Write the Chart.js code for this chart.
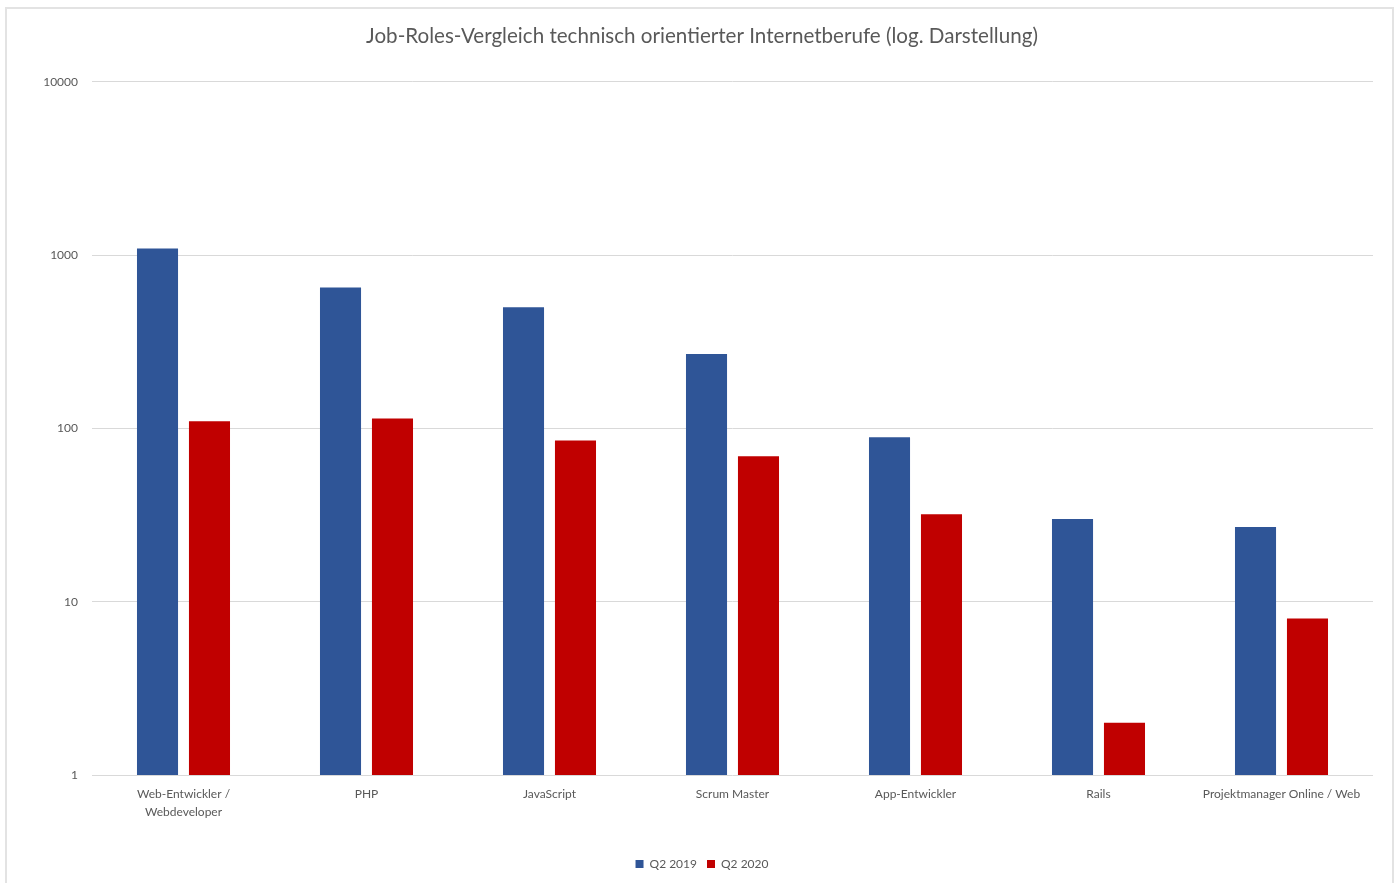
<!DOCTYPE html>
<html>
<head>
<meta charset="utf-8">
<script src="https://cdn.jsdelivr.net/npm/chart.js@4.4.1/dist/chart.umd.min.js"></script>
<style>
  html, body { margin: 0; padding: 0; background: #ffffff; }
  #wrap { position: relative; width: 1400px; height: 883px; overflow: hidden; }
  #frame { position: absolute; left: 5px; top: 7px; width: 1389px; height: 890px; box-sizing: border-box; border: 2px solid #e3e3e3; pointer-events: none; }
  canvas { position: absolute; left: 0; top: 0; }
</style>
</head>
<body>
<div id="wrap">
  <canvas id="c" width="1400" height="883"></canvas>
  <div id="frame"></div>
</div>
<script>
const chartTitle = 'Job-Roles-Vergleich technisch orientierter Internetberufe (log. Darstellung)';
const categories = [
  ['Web-Entwickler /', 'Webdeveloper'],
  'PHP',
  'JavaScript',
  'Scrum Master',
  'App-Entwickler',
  'Rails',
  'Projektmanager Online / Web'
];
const seriesNames = ['Q2 2019', 'Q2 2020'];
const q2_2019 = [1090, 650, 500, 269, 89, 30, 27];
const q2_2020 = [110, 114, 85, 69, 32, 2, 8];
const yTicks = [1, 10, 100, 1000, 10000];

const textColor = '#595959';
const fontFamily = 'Lato, "Open Sans", "Liberation Sans", sans-serif';

new Chart(document.getElementById('c'), {
  type: 'bar',
  data: {
    labels: categories,
    datasets: [
      { label: seriesNames[0], data: q2_2019, backgroundColor: '#2F5597', borderWidth: 0 },
      { label: seriesNames[1], data: q2_2020, backgroundColor: '#C00000', borderWidth: 0 }
    ]
  },
  options: {
    responsive: false,
    animation: false,
    devicePixelRatio: 1,
    layout: { padding: { left: 31, right: 27, top: 0, bottom: 3 } },
    datasets: { bar: { categoryPercentage: 0.568, barPercentage: 0.79 } },
    plugins: {
      title: {
        display: true,
        text: chartTitle,
        color: textColor,
        font: { family: fontFamily, size: 20.6, weight: 'normal' },
        padding: { top: 24, bottom: 33 }
      },
      legend: {
        position: 'bottom',
        labels: {
          color: textColor,
          font: { family: fontFamily, size: 12 },
          boxWidth: 8,
          boxHeight: 8,
          padding: 10
        }
      },
      tooltip: { enabled: false }
    },
    scales: {
      x: {
        grid: { display: false, drawTicks: false },
        border: { display: false },
        ticks: {
          color: textColor,
          font: { family: fontFamily, size: 12, lineHeight: 1.5 },
          maxRotation: 0,
          autoSkip: false,
          padding: 10
        },
        afterFit: (s) => { s.height = 73; }
      },
      y: {
        type: 'logarithmic',
        min: 1,
        max: 10000,
        grid: { color: '#d9d9d9', lineWidth: 1, drawTicks: false },
        border: { display: false },
        ticks: {
          color: textColor,
          font: { family: fontFamily, size: 12 },
          padding: 14,
          callback: (v) => String(v)
        },
        afterBuildTicks: (s) => { s.ticks = yTicks.map(v => ({ value: v })); },
        afterFit: (s) => { s.width = 61; }
      }
    }
  }
});
</script>
</body>
</html>
